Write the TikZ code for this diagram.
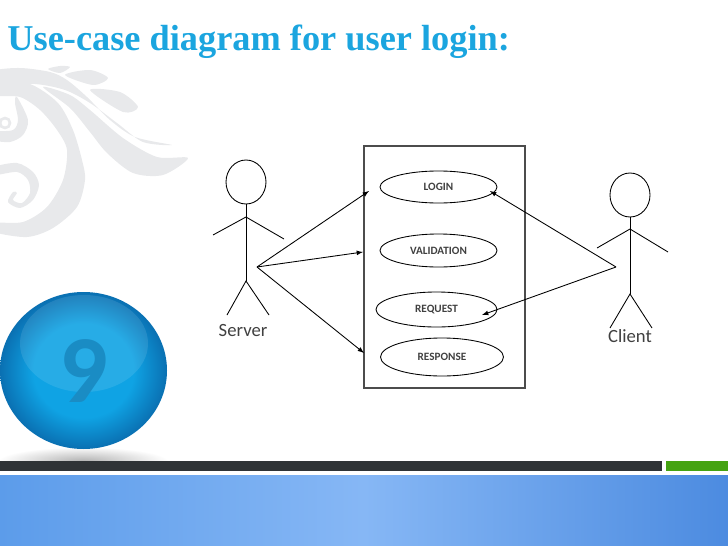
\documentclass[tikz,border=0pt]{standalone}
\usepackage{xcolor}
\usepackage{fontspec}
\setmainfont{Carlito}
\newfontfamily\titlefont{Liberation Serif}
\usetikzlibrary{shapes, arrows}
\definecolor{titleblue}{HTML}{1BA5DF}
\definecolor{swirlgray}{HTML}{E8E9EB}
\definecolor{barblack}{HTML}{2F3336}
\definecolor{bargreen}{HTML}{45A312}
\definecolor{bandleft}{HTML}{5C9CEA}
\definecolor{bandright}{HTML}{4C8BE0}
\definecolor{bandmid}{HTML}{86B7F5}
\definecolor{ballmid}{HTML}{0FA3E4}
\definecolor{balledge}{HTML}{0A70B2}
\definecolor{ninecolor}{HTML}{1A8CC4}
\pgfdeclareradialshading{ballshade}{\pgfpointorigin}{color(0bp)=(ballmid); color(15bp)=(ballmid); color(25bp)=(balledge); color(50bp)=(balledge)}
\tikzstyle{usecase}=[shape=ellipse, draw, inner sep=0, font=\bfseries\fontsize{8.4}{10}\selectfont, text=black!75]
\tikzstyle{head}=[shape=ellipse, draw, inner sep=0, minimum width=40*.75pt, minimum height=44*.75pt]
\tikzstyle{actorname}=[font=\fontsize{14}{16}\selectfont, text=black!75, inner sep=0]
\tikzstyle{swirl}=[fill=swirlgray, draw=none]
\begin{document}
\begin{tikzpicture}[x=.75pt, y=-.75pt, >=latex, line width=.65pt]
\useasboundingbox (0,0) rectangle (728,546);
\fill[swirl] plot[smooth cycle, tension=.5] coordinates {(-6,71) (20,68) (50,72) (67,80) (87,97) (110,120) (135,137) (172,145) (143,142) (117,123) (90,103) (65,90) (35,84) (-6,84)};
\fill[swirl] plot[smooth cycle, tension=.5] coordinates {(43,87) (70,95) (90,110) (123,138) (157,157) (188,158) (163,175) (133,173) (107,153) (90,132) (70,108)};
\fill[swirl] plot[smooth cycle, tension=.5] coordinates {(-6,80) (30,84) (58,103) (73,130) (82,160) (85,180) (77,207) (53,228) (27,237) (-6,232) (-6,223) (23,222) (47,207) (63,180) (67,150) (57,130) (40,110) (20,97) (-6,95)};
\fill[swirl] plot[smooth cycle, tension=.5] coordinates {(-6,167) (17,163) (33,172) (39,185) (33,200) (20,208) (8,202) (13,192) (17,193) (13,200) (22,203) (30,193) (28,180) (17,172) (-6,175)};
\fill[swirl] plot[smooth cycle, tension=.5] coordinates {(17,97) (28,120) (23,135) (10,142) (-6,140) (-6,132) (13,130) (18,120) (15,103)};
\draw[swirlgray, line width=2pt] (5,123) circle (5);
\fill[swirl] plot[smooth cycle, tension=.5] coordinates {(48,69) (60,66) (70,67) (60,73)};
\fill[swirl] plot[smooth cycle, tension=.5] coordinates {(65,75) (90,70) (108,78) (93,85)};
\fill[swirl] plot[smooth cycle, tension=.5] coordinates {(90,90) (120,92) (138,107) (123,112)};
\begin{scope}
\clip (0,440) rectangle (200,461);
\shade[inner color=black!30, outer color=white] (83,461) ellipse (85 and 14);
\end{scope}
\fill[barblack] (0,461) rectangle (662,471);
\fill[bargreen] (666,461) rectangle (728,471);
\shade[left color=bandleft, right color=bandright, middle color=bandmid] (0,475) rectangle (728,546);
\shade[shading=ballshade] (83.5,370.5) ellipse (83.5 and 78.5);
\fill[white, opacity=.1] (84,343.5) ellipse (64 and 48.5);
\node[font=\bfseries\fontsize{72}{74}\selectfont, text=ninecolor, inner sep=0] (nine) at (84,371) {9};
\node[font=\titlefont\bfseries\fontsize{27.25}{30}\selectfont, text=titleblue, anchor=base west, inner sep=0] (title) at (7,50) {Use-case diagram for user login:};
\draw[draw=black!70, line width=.85pt] (364,146) rectangle (525,388);
\node[usecase, minimum width=117*.75pt, minimum height=32*.75pt] (login) at (438.5,187) {LOGIN};
\node[usecase, minimum width=117*.75pt, minimum height=33*.75pt] (validation) at (438.5,250.5) {VALIDATION};
\node[usecase, minimum width=121*.75pt, minimum height=35*.75pt] (request) at (436.5,309.5) {\raisebox{1.5pt}{REQUEST}};
\node[usecase, minimum width=123*.75pt, minimum height=38*.75pt] (response) at (442,357) {\raisebox{1pt}{RESPONSE}};
\node[head] (serverhead) at (246,182) {};
\coordinate (servershoulder) at (246,217);
\coordinate (serverhip) at (246,281);
\coordinate (serverhub) at (257,267);
\draw (serverhead.south)--(serverhip);
\draw (213,235)--(servershoulder)--(284,239);
\draw (227,315)--(serverhip)--(269,315);
\node[actorname] (server) at (243,330.5) {Server};
\node[head] (clienthead) at (630,195) {};
\coordinate (clientshoulder) at (630,229);
\coordinate (clienthip) at (630,294);
\coordinate (clienthub) at (616,267);
\draw (clienthead.south)--(clienthip);
\draw (597,248)--(clientshoulder)--(668,252);
\draw (610,328)--(clienthip)--(652,328);
\node[actorname] (client) at (630,336) {Client};
\coordinate (servertologin) at (369,191);
\coordinate (servertovalidation) at (363,252);
\coordinate (servertoresponse) at (364,353);
\coordinate (clienttologin) at (490,191);
\coordinate (clienttorequest) at (482,315);
\draw[->] (serverhub)--(servertologin);
\draw[->] (serverhub)--(servertovalidation);
\draw[->] (serverhub)--(servertoresponse);
\draw[->] (clienthub)--(clienttologin);
\draw[->] (clienthub)--(clienttorequest);
\end{tikzpicture}
\end{document}
